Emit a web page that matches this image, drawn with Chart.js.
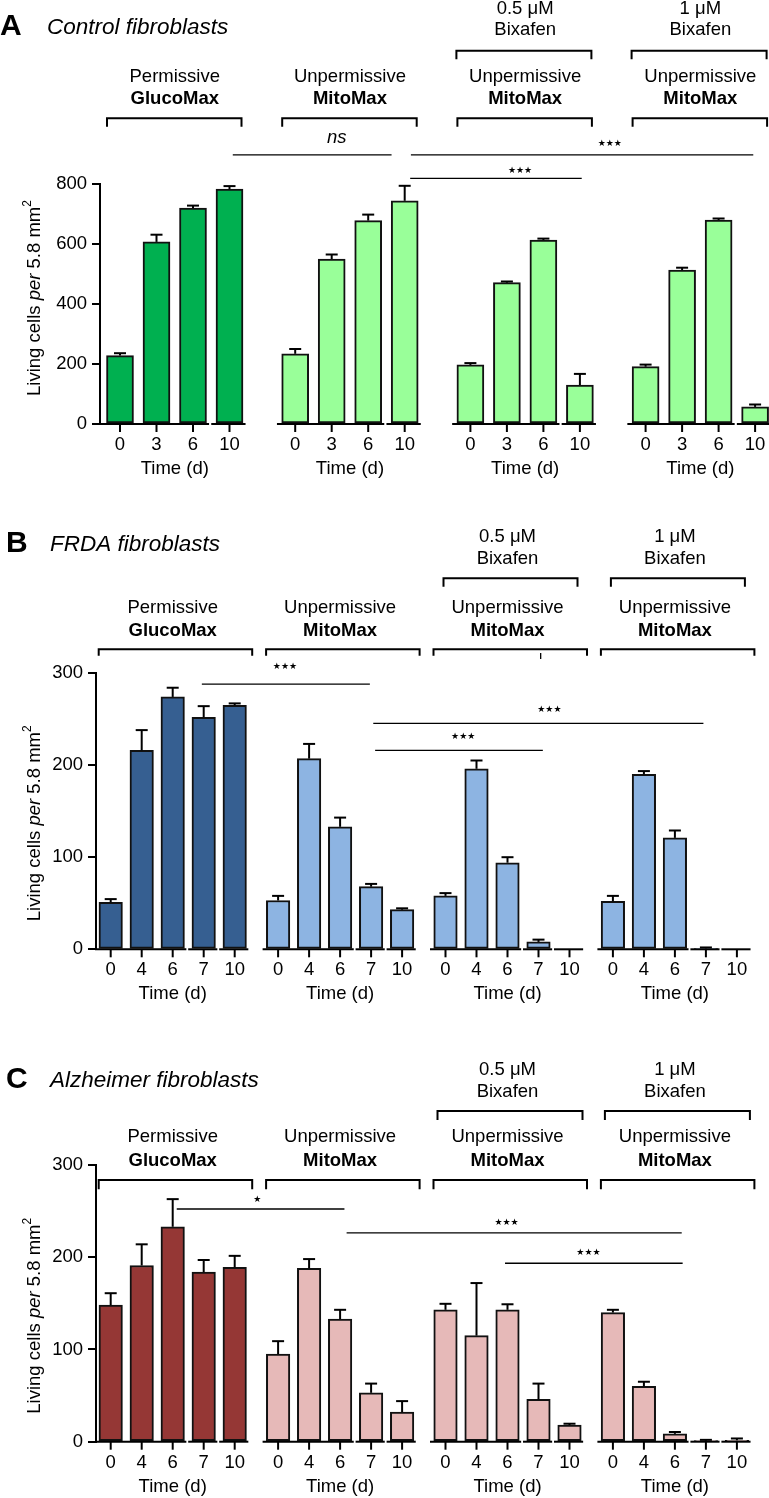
<!DOCTYPE html>
<html>
<head>
<meta charset="utf-8">
<script src="https://cdn.jsdelivr.net/npm/chart.js@4/dist/chart.umd.min.js"></script>
<style>
  html, body { margin: 0; padding: 0; background: #fff; }
  .panel { position: absolute; left: 0; width: 769px; }
  canvas { display: block; }
</style>
</head>
<body>
<div class="panel" style="top:0"><canvas id="chartA" width="769" height="490"></canvas></div>
<div class="panel" style="top:490px"><canvas id="chartB" width="769" height="530"></canvas></div>
<div class="panel" style="top:1000px"><canvas id="chartC" width="769" height="498"></canvas></div>
<script>
// time points (days) = x tick labels
const daysA = ['0', '3', '6', '10'];
const daysBC = ['0', '4', '6', '7', '10'];

// y tick labels
const yTicksA = [0, 200, 400, 600, 800];
const yTicksBC = [0, 100, 200, 300];

// A - control fibroblasts (mean, SEM)
const ctrlGluco = [228, 607, 720, 783];
const ctrlGlucoErr = [8, 24, 8, 10];
const ctrlMito = [234, 550, 678, 744];
const ctrlMitoErr = [16, 15, 20, 50];
const ctrlBix05 = [197, 471, 613, 130];
const ctrlBix05Err = [6, 4, 5, 37];
const ctrlBix1 = [191, 513, 680, 57];
const ctrlBix1Err = [7, 8, 5, 8];

// B - FRDA fibroblasts
const frdaGluco = [51, 216, 274, 252, 265];
const frdaGlucoErr = [3.5, 22, 10, 12, 2];
const frdaMito = [53, 207, 133, 68, 43];
const frdaMitoErr = [5, 16, 10, 3, 1.5];
const frdaBix05 = [58, 196, 94, 8, 0];
const frdaBix05Err = [3, 9, 6, 2.5, 0];
const frdaBix1 = [52, 190, 121, 1, 0];
const frdaBix1Err = [6, 3.5, 8, 1, 0];

// C - Alzheimer fibroblasts
const alzGluco = [148, 191, 233, 184, 189];
const alzGlucoErr = [13, 23, 30, 13, 12.5];
const alzMito = [95, 188, 133, 53, 32];
const alzMitoErr = [14, 10, 10, 10, 12];
const alzBix05 = [143, 115, 143, 46, 18];
const alzBix05Err = [6.5, 57, 6, 17, 1.5];
const alzBix1 = [140, 60, 8.5, 1, 1.5];
const alzBix1Err = [3, 5, 2, 1, 2];

// group headers
const groupTop = ['Permissive', 'Unpermissive', 'Unpermissive', 'Unpermissive'];
const groupBold = ['GlucoMax', 'MitoMax', 'MitoMax', 'MitoMax'];
const drugLabels = [null, null, ['0.5 μM', 'Bixafen'], ['1 μM', 'Bixafen']];

// significance bars, x in bar units, y in data units
const sigA = [
  { x1: 3.09, x2: 7.44, y1: 897, text: 'ns', tx: 5.94, ty: 936 },
  { x1: 7.97, x2: 17.35, y1: 897, text: '★★★', tx: 13.42, ty: 933 },
  { x1: 7.95, x2: 12.65, y1: 819, text: '★★★', tx: 10.96, ty: 844 }
];
const sigB = [
  { x1: 2.94, x2: 8.36, y1: 287.9, text: '★★★', tx: 5.62, ty: 306.8 },
  { x1: 8.47, x2: 19.12, y1: 245.4, text: '★★★', tx: 14.15, ty: 260.7 },
  { x1: 8.53, x2: 13.94, y1: 216, text: '★★★', tx: 11.37, ty: 230.9 },
  { x1: 13.87, x2: 13.87, y1: 321.7, y2: 315.1 }
];
const sigC = [
  { x1: 2.13, x2: 7.54, y1: 252.3, text: '★', tx: 4.73, ty: 262 },
  { x1: 7.61, x2: 18.42, y1: 226.4, text: '★★★', tx: 12.77, ty: 237.8 },
  { x1: 12.72, x2: 18.45, y1: 193.5, text: '★★★', tx: 15.41, ty: 204.8 }
];

const FONT = '"Liberation Sans", Arial, Helvetica, sans-serif';
const STAR_FONT = '"DejaVu Sans", sans-serif';

const panels = [
  {
    id: 'chartA', letter: 'A', title: 'Control fibroblasts',
    days: daysA, yTicks: yTicksA, breaks: [3],
    series: [ctrlGluco, ctrlMito, ctrlBix05, ctrlBix1],
    errors: [ctrlGlucoErr, ctrlMitoErr, ctrlBix05Err, ctrlBix1Err],
    colors: ['#00b050', '#99ff99', '#99ff99', '#99ff99'],
    sig: sigA,
    height: 490, top: 184, bottom: 424, axisX: 100, x0: 120, unit: 36.5, gap: 0.8, barPx: 27,
    letterX: 0, letterY: 35, titleX: 47, titleY: 34, yTitleY: 298,
    drug1: 14, drug2: 35, upY: 50.7, upLen: 8.6, upOff: [-14, 11.5],
    lab1: 81.7, lab2: 104, lowY: 118.3, lowLen: 8.4, lowOff: [-13, 12]
  },
  {
    id: 'chartB', letter: 'B', title: 'FRDA fibroblasts',
    days: daysBC, yTicks: yTicksBC, breaks: [3, 4],
    series: [frdaGluco, frdaMito, frdaBix05, frdaBix1],
    errors: [frdaGlucoErr, frdaMitoErr, frdaBix05Err, frdaBix1Err],
    colors: ['#365f91', '#8db4e2', '#8db4e2', '#8db4e2'],
    sig: sigB,
    height: 530, top: 183, bottom: 459.3, axisX: 96, x0: 110.7, unit: 31, gap: 0.4, barPx: 23.5,
    letterX: 6, letterY: 61.7, titleX: 50, titleY: 60.7, yTitleY: 333.3,
    drug1: 51.7, drug2: 74, upY: 88.3, upLen: 8.4, upOff: [-2, 8],
    lab1: 123.3, lab2: 145.7, lowY: 159.3, lowLen: 6.4, lowOff: [-12, 17.5]
  },
  {
    id: 'chartC', letter: 'C', title: 'Alzheimer fibroblasts',
    days: daysBC, yTicks: yTicksBC, breaks: [3, 4],
    series: [alzGluco, alzMito, alzBix05, alzBix1],
    errors: [alzGlucoErr, alzMitoErr, alzBix05Err, alzBix1Err],
    colors: ['#953735', '#e6b9b8', '#e6b9b8', '#e6b9b8'],
    sig: sigC,
    height: 498, top: 165, bottom: 441.7, axisX: 96, x0: 110.7, unit: 31, gap: 0.4, barPx: 23.5,
    letterX: 6, letterY: 88, titleX: 50, titleY: 87.3, yTitleY: 315.8,
    drug1: 75, drug2: 97.3, upY: 111, upLen: 9, upOff: [-8, 13],
    lab1: 142.3, lab2: 165.7, lowY: 180, lowLen: 9.3, lowOff: [-12, 17.5]
  }
];

function barPos(p, g, i) {
  return g * (p.days.length + p.gap) + i;
}

function annotations(p) {
  return {
    id: 'annot' + p.letter,
    afterDatasetsDraw(chart) {
      const ctx = chart.ctx, xs = chart.scales.x, ys = chart.scales.y;
      const n = p.days.length;
      const cx = (g, i) => xs.getPixelForValue(barPos(p, g, i));
      const y0 = ys.getPixelForValue(0);
      const line = (x1, y1, x2, y2, w) => {
        ctx.lineWidth = w;
        ctx.beginPath(); ctx.moveTo(x1, y1); ctx.lineTo(x2, y2); ctx.stroke();
      };
      const bracket = (x1, x2, y, len) => {
        ctx.lineWidth = 2;
        ctx.beginPath();
        ctx.moveTo(x1, y + len); ctx.lineTo(x1, y); ctx.lineTo(x2, y); ctx.lineTo(x2, y + len);
        ctx.stroke();
      };
      ctx.save();
      ctx.strokeStyle = '#000';
      ctx.fillStyle = '#000';
      ctx.lineJoin = 'miter';

      // upper error bars
      chart.data.datasets.forEach((ds, di) => {
        chart.getDatasetMeta(di).data.forEach((bar, i) => {
          const e = p.errors[di][i];
          if (!e) return;
          const yt = ys.getPixelForValue(p.series[di][i] + e);
          line(bar.x, bar.y, bar.x, yt, 2);
          line(bar.x - 6, yt, bar.x + 6, yt, 2);
        });
      });

      for (let g = 0; g < 4; g++) {
        // broken x axis
        const cuts = [0, ...p.breaks, n];
        for (let s = 0; s < cuts.length - 1; s++) {
          let a = cx(g, cuts[s]) - 0.5 * p.unit;
          const b = cx(g, cuts[s + 1] - 1) + 0.44 * p.unit;
          if (g === 0 && s === 0) a = chart.chartArea.left - 1;
          line(a, y0, b, y0, 2);
        }
        ctx.font = `18.5px ${FONT}`;
        ctx.textAlign = 'center';
        ctx.textBaseline = 'middle';
        for (let i = 0; i < n; i++) {
          line(cx(g, i), y0, cx(g, i), y0 + 8, 2);
          ctx.fillText(p.days[i], cx(g, i), y0 + 21);
        }
        const mid = (cx(g, 0) + cx(g, n - 1)) / 2;
        ctx.fillText('Time (d)', mid, y0 + 45);

        // headers and brackets
        ctx.textBaseline = 'alphabetic';
        ctx.fillText(groupTop[g], mid, p.lab1);
        ctx.font = `bold 18.5px ${FONT}`;
        ctx.fillText(groupBold[g], mid, p.lab2);
        bracket(cx(g, 0) + p.lowOff[0], cx(g, n - 1) + p.lowOff[1], p.lowY, p.lowLen);
        if (drugLabels[g]) {
          ctx.font = `18.5px ${FONT}`;
          ctx.fillText(drugLabels[g][0], mid, p.drug1);
          ctx.fillText(drugLabels[g][1], mid, p.drug2);
          bracket(cx(g, 0) + p.upOff[0], cx(g, n - 1) + p.upOff[1], p.upY, p.upLen);
        }
      }

      // significance
      p.sig.forEach(s => {
        line(xs.getPixelForValue(s.x1), ys.getPixelForValue(s.y1),
             xs.getPixelForValue(s.x2), ys.getPixelForValue(s.y2 ?? s.y1), 1.3);
        if (!s.text) return;
        ctx.textAlign = 'center';
        if (s.text === 'ns') {
          ctx.font = `italic 18.5px ${FONT}`;
          ctx.textBaseline = 'alphabetic';
        } else {
          ctx.font = `9px ${STAR_FONT}`;
          ctx.textBaseline = 'middle';
        }
        ctx.fillText(s.text, xs.getPixelForValue(s.tx), ys.getPixelForValue(s.ty));
      });

      // panel letter and title
      ctx.textAlign = 'left';
      ctx.textBaseline = 'alphabetic';
      ctx.font = `bold 30px ${FONT}`;
      ctx.fillText(p.letter, p.letterX, p.letterY);
      ctx.font = `italic 22.5px ${FONT}`;
      ctx.fillText(p.title, p.titleX, p.titleY);

      // y axis title with italic "per" and superscript
      const parts = [
        ['Living cells ', `18.5px ${FONT}`, 0],
        ['per', `italic 18.5px ${FONT}`, 0],
        [' 5.8 mm', `18.5px ${FONT}`, 0],
        ['2', `12px ${FONT}`, -7]
      ];
      let total = 0;
      parts.forEach(pt => { ctx.font = pt[1]; total += ctx.measureText(pt[0]).width; });
      ctx.translate(35, p.yTitleY);
      ctx.rotate(-Math.PI / 2);
      ctx.textBaseline = 'middle';
      let x = -total / 2;
      parts.forEach(pt => {
        ctx.font = pt[1];
        ctx.fillText(pt[0], x, pt[2]);
        x += ctx.measureText(pt[0]).width;
      });
      ctx.restore();
    }
  };
}

panels.forEach(p => {
  const xmin = -(p.x0 - p.axisX) / p.unit;
  const xmax = xmin + (769 - p.axisX) / p.unit;
  new Chart(document.getElementById(p.id), {
    type: 'bar',
    data: {
      datasets: p.series.map((vals, g) => ({
        data: vals.map((v, i) => ({ x: barPos(p, g, i), y: v })),
        backgroundColor: p.colors[g],
        borderColor: '#111',
        borderWidth: 2,
        borderSkipped: false,
        barThickness: p.barPx,
        grouped: false,
        clip: false
      }))
    },
    options: {
      responsive: false,
      animation: false,
      layout: { padding: { top: p.top, bottom: p.height - p.bottom, left: 0, right: 0 } },
      plugins: { legend: { display: false }, tooltip: { enabled: false } },
      scales: {
        x: { type: 'linear', display: false, offset: false, min: xmin, max: xmax },
        y: {
          min: 0,
          max: p.yTicks[p.yTicks.length - 1],
          afterFit: s => { s.width = p.axisX; },
          afterBuildTicks: s => { s.ticks = p.yTicks.map(v => ({ value: v })); },
          ticks: { color: '#000', font: { family: FONT, size: 18.5 }, padding: 5 },
          grid: { drawOnChartArea: false, color: '#000', lineWidth: 2, tickLength: 8 },
          border: { color: '#000', width: 2 }
        }
      }
    },
    plugins: [annotations(p)]
  });
});
</script>
</body>
</html>
